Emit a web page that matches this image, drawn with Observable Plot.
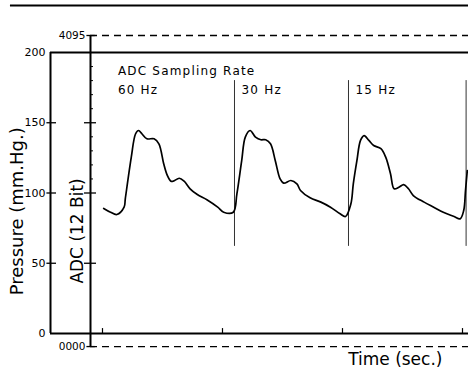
<!DOCTYPE html>
<html>
<head>
<meta charset="utf-8">
<script src="https://cdn.jsdelivr.net/npm/d3@7"></script>
<script src="https://cdn.jsdelivr.net/npm/@observablehq/plot@0.6"></script>
<style>
  html, body { margin: 0; padding: 0; background: #fff; }
</style>
</head>
<body>
<div id="chart"></div>
<script>
// ---- data ----
const timeSec = [0.01,0.067,0.12,0.18,0.19,0.24,0.275,0.30,0.33,0.37,0.43,0.47,0.51,0.54,0.57,0.59,0.64,0.68,0.73,0.79,0.87,0.96,1.01,1.09,
  1.12,1.16,1.19,1.23,1.275,1.32,1.36,1.40,1.44,1.48,1.51,1.57,1.62,1.65,1.73,1.82,1.90,1.98,2.025,
  2.07,2.09,2.12,2.15,2.18,2.22,2.26,2.32,2.36,2.40,2.43,2.47,2.51,2.55,2.59,2.68,2.76,2.84,2.93,2.98,3.01,3.025,3.04];
const pressure = [89,86.3,84.7,89.9,95.9,125.5,142,144.5,142,138.6,138.6,135,120.8,112.5,108.4,108.4,110.5,108.4,103,98.9,95.2,89.9,86.3,86.3,
  99.4,123,139.8,144.5,139.8,137.9,137.9,135,123,110.1,107,108.9,106.5,101.8,96.6,93.5,89.9,85.2,83.3,
  92.3,106.5,123,137.4,140.9,137.4,133.8,131.5,125.5,113.7,103,104.1,106,103,98.2,93.5,89.9,86.3,83.3,81.6,87.5,101.8,116];
const rateLabels = ["60 Hz", "30 Hz", "15 Hz"];
const rateStart = [0.07, 1.10, 2.05];        // time at which each sampling rate begins
const rateChange = [1.10, 2.05, 3.03];       // separators drawn at rate changes
const pressureTicks = [0, 50, 100, 150, 200];
const pressureMinor = [110, 120, 130, 140, 160, 170, 180, 190];
const timeTicks = [0, 1, 2, 3];
const adcTickLabels = ["0000", "4095"];
const adcTickValues = [0, 4095];
// ADC calibration: pressure (mm Hg) equivalent of ADC 0 and ADC 4095
const adcZeroP = -9.3, adcFullP = 212.1;
const adcToP = v => adcZeroP + v / 4095 * (adcFullP - adcZeroP);

const wave = timeSec.map((t, i) => ({t, p: pressure[i]}));

const xLeft = -0.4333, xRight = 3.05, adcAxisX = -0.1;

const svg = Plot.plot({
  width: 468,
  height: 386,
  marginLeft: 50,
  marginRight: 0,
  marginTop: 52,
  marginBottom: 53,
  style: {fontFamily: "DejaVu Sans", background: "#fff", color: "#000"},
  x: {domain: [xLeft, xRight], axis: null},
  y: {domain: [0, 200], axis: null},
  marks: [
    // top header rule
    Plot.ruleY([233.5], {x1: -0.767, x2: xRight, strokeWidth: 2}),
    // frame: left pressure axis, top and bottom
    Plot.ruleX([xLeft], {y1: 0, y2: 200, strokeWidth: 2}),
    Plot.ruleY([0, 200], {x1: xLeft, x2: xRight, strokeWidth: 2}),
    // ADC axis
    Plot.ruleX([adcAxisX], {y1: adcToP(0), y2: adcToP(4095), strokeWidth: 2}),
    Plot.ruleY(adcTickValues.map(adcToP), {x1: adcAxisX, x2: xRight, strokeWidth: 1.3, strokeDasharray: "7,5"}),
    Plot.ruleY(adcTickValues.map(adcToP), {x1: adcAxisX - 0.03, x2: adcAxisX + 0.04, strokeWidth: 1.3}),
    // pressure ticks on both vertical axes
    Plot.ruleY(pressureTicks.filter(d => d > 0 && d < 200), {x1: xLeft - 0.03, x2: xLeft + 0.05, strokeWidth: 1.3}),
    Plot.ruleY(pressureTicks.filter(d => d > 0 && d < 200), {x1: adcAxisX - 0.05, x2: adcAxisX + 0.05, strokeWidth: 1.3}),
    Plot.ruleY(pressureMinor, {x1: adcAxisX, x2: adcAxisX + 0.025, strokeWidth: 1}),
    // time ticks
    Plot.ruleX(timeTicks, {y1: 0, y2: 3.5, strokeWidth: 1.2}),
    // rate-change separators
    Plot.ruleX(rateChange, {y1: 62, y2: 180, strokeWidth: 1, stroke: "#333"}),
    // pressure waveform
    Plot.line(wave, {x: "t", y: "p", strokeWidth: 1.7, curve: "catmull-rom"}),
    // tick labels
    Plot.text(pressureTicks, {x: xLeft, y: d => d, dx: -5, textAnchor: "end", fontSize: 11}),
    Plot.text(adcTickLabels, {x: adcAxisX, y: (d, i) => adcToP(adcTickValues[i]), dx: -5, textAnchor: "end", fontSize: 10.5}),
    // annotations
    Plot.text(["ADC Sampling Rate"], {x: rateStart[0], y: 186.5, dx: 7, textAnchor: "start", fontSize: 12}),
    Plot.text(rateLabels, {x: (d, i) => rateStart[i], y: 173, dx: 7, textAnchor: "start", fontSize: 12}),
    // axis titles
    Plot.text(["Pressure (mm.Hg.)"], {x: -0.708, y: 87, rotate: -90, fontSize: 18}),
    Plot.text(["ADC (12 Bit)"], {x: -0.208, y: 73, rotate: -90, fontSize: 17}),
    Plot.text(["Time (sec.)"], {x: 2.44, y: -18.5, fontSize: 17})
  ]
});

svg.querySelectorAll("text").forEach(t => {
  const s = t.textContent;
  if (s === "ADC Sampling Rate" || /Hz$/.test(s)) t.style.letterSpacing = "1.2px";
});
document.getElementById("chart").appendChild(svg);
</script>
</body>
</html>
